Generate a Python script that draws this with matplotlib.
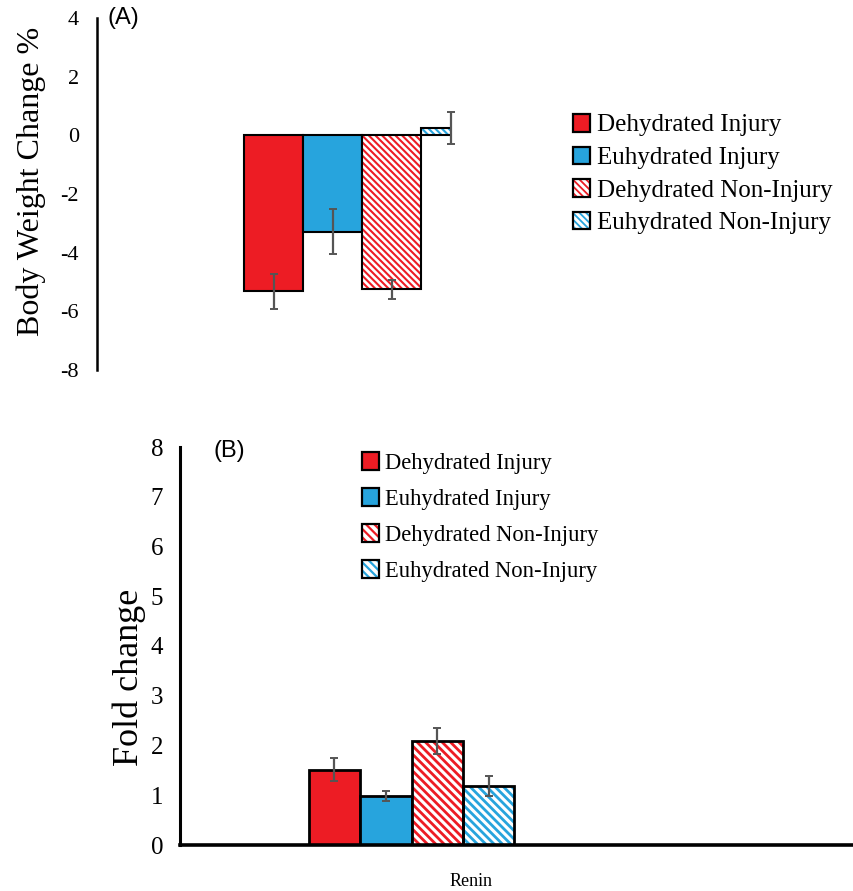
import numpy as np
import matplotlib
matplotlib.use("Agg")
import matplotlib.pyplot as plt
from matplotlib.patches import Patch
from matplotlib.legend_handler import HandlerTuple

groups = ["Dehydrated Injury", "Euhydrated Injury",
          "Dehydrated Non-Injury", "Euhydrated Non-Injury"]
colors = ["#ED1C24", "#27A4DD", "#ED1C24", "#27A4DD"]
hatched = [False, False, True, True]

# panel A: body weight change %
bw_mean = [-5.32, -3.28, -5.25, 0.25]
bw_err = [0.6, 0.77, 0.32, 0.55]

# panel B: renin fold change
fc_mean = [1.51, 0.98, 2.09, 1.19]
fc_err = [0.23, 0.10, 0.27, 0.20]
category = "Renin"

SERIF = "Liberation Serif"
SANS = "Liberation Sans"
plt.rcParams["axes.unicode_minus"] = False

fig = plt.figure(figsize=(8.54, 8.91), dpi=100)


def draw_bars(ax, means, errs, hatch, hlw, elw):
    x = np.arange(len(means))
    for i, (m, c, h) in enumerate(zip(means, colors, hatched)):
        if h:
            plt.rcParams["hatch.linewidth"] = hlw
            ax.bar(x[i], m, width=1.0, color="white", edgecolor=c,
                   hatch=hatch, linewidth=0, zorder=2)
            ax.bar(x[i], m, width=1.0, fill=False, edgecolor="black",
                   linewidth=elw, zorder=3)
        else:
            ax.bar(x[i], m, width=1.0, color=c, edgecolor="black",
                   linewidth=elw, zorder=2)
    ax.errorbar(x, means, yerr=errs, fmt="none", ecolor="#555555",
                elinewidth=1.6, capsize=3, capthick=1.4, zorder=4,
                clip_on=False)


def legend_handles(hatch, hlw):
    hs = []
    for c, h in zip(colors, hatched):
        if h:
            plt.rcParams["hatch.linewidth"] = hlw
            hs.append((Patch(facecolor="white", edgecolor=c, hatch=hatch, lw=0),
                       Patch(fill=False, edgecolor="black", lw=1.6)))
        else:
            hs.append(Patch(facecolor=c, edgecolor="black", lw=1.6))
    return hs


# ---- panel A ----
axA = fig.add_axes([97 / 854, 521 / 891, 354 / 854, 352 / 891])
draw_bars(axA, bw_mean, bw_err, "\\" * 5, 1.5, 1.5)
axA.set_xlim(-3, 3)
axA.set_ylim(-8, 4)
axA.set_yticks(np.arange(-8, 5, 2))
axA.set_xticks([])
for s in ["top", "right", "bottom"]:
    axA.spines[s].set_visible(False)
axA.spines["left"].set_linewidth(1.8)
axA.tick_params(axis="y", length=0, pad=13, labelsize=16,
                labelfontfamily=SERIF)
axA.set_ylabel("Body Weight Change %", fontfamily=SERIF, fontsize=23)
axA.yaxis.set_label_coords(-0.145, 0.535)
axA.text(0.03, 1.0, "(A)", transform=axA.transAxes, fontfamily=SANS,
         fontsize=17, va="center", ha="left")

fig.legend(legend_handles("\\" * 5, 1.3), groups, loc="upper left",
           bbox_to_anchor=(573 / 854, 1 - 114 / 891), frameon=False,
           prop={"family": SERIF, "size": 18}, handlelength=0.7,
           handleheight=0.7, handletextpad=0.25, labelspacing=0.4,
           borderpad=0, borderaxespad=0,
           handler_map={tuple: HandlerTuple(ndivide=1)})

# ---- panel B ----
axB = fig.add_axes([180 / 854, 46 / 891, 674 / 854, 398 / 891])
draw_bars(axB, fc_mean, fc_err, "\\" * 4, 2.0, 2.0)
axB.set_xlim(-3, 10.1)
axB.set_ylim(0, 8)
axB.set_yticks(np.arange(0, 9, 1))
axB.set_xticks([2.65])
axB.set_xticklabels([category], fontfamily=SERIF, fontsize=13)
for s in ["top", "right"]:
    axB.spines[s].set_visible(False)
axB.spines["left"].set_linewidth(2.2)
axB.spines["bottom"].set_linewidth(2.6)
axB.tick_params(axis="y", length=0, pad=12, labelsize=18,
                labelfontfamily=SERIF)
axB.tick_params(axis="x", length=0, pad=20)
axB.set_ylabel("Fold change", fontfamily=SERIF, fontsize=26)
axB.yaxis.set_label_coords(-0.051, 0.42)
axB.text(0.05, 0.99, "(B)", transform=axB.transAxes, fontfamily=SANS,
         fontsize=17, va="center", ha="left")

fig.legend(legend_handles("\\" * 4, 1.6), groups, loc="upper left",
           bbox_to_anchor=(362 / 854, 1 - 452 / 891), frameon=False,
           prop={"family": SERIF, "size": 16.3}, handlelength=0.75,
           handleheight=0.85, handletextpad=0.25, labelspacing=0.62,
           borderpad=0, borderaxespad=0,
           handler_map={tuple: HandlerTuple(ndivide=1)})

fig.savefig("out.png", dpi=100)
